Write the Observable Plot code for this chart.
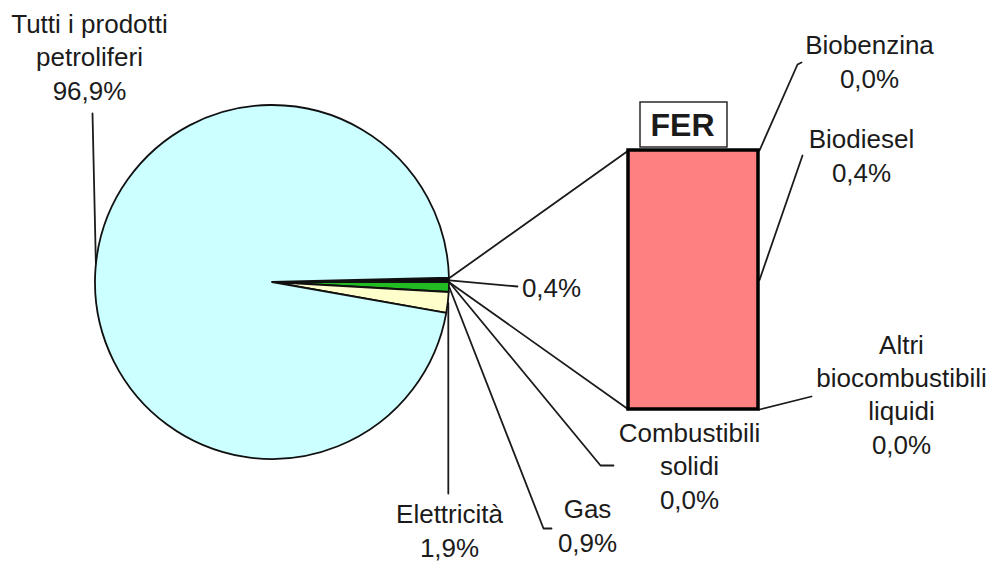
<!DOCTYPE html>
<html>
<head>
<meta charset="utf-8">
<script src="https://cdn.jsdelivr.net/npm/d3@7"></script>
<script src="https://cdn.jsdelivr.net/npm/@observablehq/plot@0.6"></script>
<style>
  body { margin: 0; background: #fff; }
  #chart { width: 993px; height: 561px; }
</style>
</head>
<body>
<div id="chart"></div>
<script>
// Consumi finali nei trasporti per fonte (quote %), con dettaglio delle FER
const pieLabels = ["FER", "Combustibili\nsolidi", "Gas", "Elettricità", "Tutti i prodotti\npetroliferi"];
const pieValues = [0.4, 0.0, 0.9, 1.9, 96.9];
const barLabels = ["Biobenzina", "Biodiesel", "Altri\nbiocombustibili\nliquidi"];
const barValues = [0.0, 0.4, 0.0];
const barTitle = "FER";

// Italian number format: 0,4%
const fmt = v => d3.format(".1f")(v).replace(".", ",") + "%";

// Layout (in the pixel-like coordinate frame of the x/y scales)
const W = 993, H = 561;
const PIE = {cx: 272, cy: 282, r: 177};
const BAR = {x1: 628, x2: 758, y1: 150, y2: 409};
const TITLE_BOX = {x1: 640, x2: 727, y1: 102, y2: 147, tx: 682, ty: 135};
const FONT = "Liberation Sans, Arial, Helvetica, sans-serif";
const INK = "#1b1b1b";

const sliceFill = new Map([
  ["FER", "#0c0c0c"],
  ["Combustibili\nsolidi", "#808080"],
  ["Gas", "#22bb22"],
  ["Elettricità", "#ffffcc"],
  ["Tutti i prodotti\npetroliferi", "#ccffff"]
]);

// Label anchors (x centre, baseline of last line) and leader-line tails
const pieLabelPos = new Map([
  ["FER", {x: 551, y: 296, tail: [[517, 286]]}],
  ["Combustibili\nsolidi", {x: 689, y: 508, tail: [[600, 465], [613, 465]]}],
  ["Gas", {x: 587, y: 551, tail: [[543, 528], [551, 528]]}],
  ["Elettricità", {x: 449, y: 556, tail: "down"}],
  ["Tutti i prodotti\npetroliferi", {x: 89, y: 99, tail: [[92, 113]]}]
]);
const barLabelPos = new Map([
  ["Biobenzina", {x: 869, y: 87, tail: [[797, 64], [801, 62]]}],
  ["Biodiesel", {x: 861, y: 181, tail: [[802, 155]]}],
  ["Altri\nbiocombustibili\nliquidi", {x: 901, y: 453, tail: [[811, 396]]}]
]);

// Pie: FER slice sits just above 3 o'clock, the rest follow clockwise
const total = d3.sum(pieValues);
const ferAngle = pieValues[0] / total * 2 * Math.PI;
const start = Math.PI / 2 - ferAngle;
const arcs = d3.pie().sort(null).value(d => d.value)
  .startAngle(start).endAngle(start + 2 * Math.PI)(
    pieLabels.map((name, i) => ({name, value: pieValues[i]}))
  );
const edge = (a, r = PIE.r) => [PIE.cx + r * Math.sin(a), PIE.cy - r * Math.cos(a)];

function pieMark(index, scales) {
  const cx = scales.x(PIE.cx), cy = scales.y(PIE.cy);
  const r = scales.x(PIE.cx + PIE.r) - cx;
  const arc = d3.arc().innerRadius(0).outerRadius(r);
  const g = d3.create("svg:g").attr("transform", `translate(${cx},${cy})`);
  g.selectAll("path")
    .data(arcs.filter(a => a.value > 0))
    .join("path")
    .attr("d", arc)
    .attr("fill", d => sliceFill.get(d.data.name))
    .attr("stroke", "#111")
    .attr("stroke-width", 1.8)
    .attr("stroke-linejoin", "round");
  return g.node();
}

// Bar of the FER breakdown, stacked top to bottom
const barTotal = d3.sum(barValues);
const barY = v => BAR.y1 + (v / barTotal) * (BAR.y2 - BAR.y1);
let cum = 0;
const barSegs = barLabels.map((name, i) => {
  const s = {name, value: barValues[i], from: cum, to: cum + barValues[i]};
  cum += barValues[i];
  return s;
});

// Leader lines
const leaders = [];
arcs.forEach(a => {
  const pos = pieLabelPos.get(a.data.name);
  const mid = (a.startAngle + a.endAngle) / 2;
  const p0 = edge(mid);
  const pts = pos.tail === "down" ? [p0, [p0[0], 493]] : [p0, ...pos.tail];
  pts.forEach(([x, y]) => leaders.push({id: "p-" + a.data.name, x, y}));
});
barSegs.forEach(s => {
  const pos = barLabelPos.get(s.name);
  const y0 = barY((s.from + s.to) / 2);
  [[BAR.x2 + 1, y0], ...pos.tail].forEach(([x, y]) => leaders.push({id: "b-" + s.name, x, y}));
});
// connectors from the FER slice to the bar
const fer = arcs[0];
const c1 = edge(fer.startAngle), c2 = edge(fer.endAngle);
leaders.push({id: "c1", x: c1[0], y: c1[1]}, {id: "c1", x: BAR.x1, y: BAR.y1});
leaders.push({id: "c2", x: c2[0], y: c2[1]}, {id: "c2", x: BAR.x1, y: BAR.y2});

// Labels
const labels = [
  ...arcs.map(a => {
    const pos = pieLabelPos.get(a.data.name);
    const text = a.data.name === "FER" ? fmt(a.data.value) : a.data.name + "\n" + fmt(a.data.value);
    return {text, x: pos.x, y: pos.y};
  }),
  ...barSegs.map(s => {
    const pos = barLabelPos.get(s.name);
    return {text: s.name + "\n" + fmt(s.value), x: pos.x, y: pos.y};
  })
];

const chart = Plot.plot({
  width: W,
  height: H,
  margin: 0,
  x: {domain: [0, W], range: [0, W], axis: null},
  y: {domain: [0, H], range: [0, H], axis: null},
  style: {background: "#fff", fontFamily: FONT},
  marks: [
    Plot.line(leaders, {x: "x", y: "y", z: "id", stroke: INK, strokeWidth: 1.8, curve: "linear"}),
    pieMark,
    Plot.rect(barSegs.filter(s => s.value > 0), {
      x1: () => BAR.x1, x2: () => BAR.x2,
      y1: d => barY(d.from), y2: d => barY(d.to),
      fill: "#ff8080", stroke: "#000", strokeWidth: 3.5
    }),
    Plot.rect([TITLE_BOX], {x1: "x1", x2: "x2", y1: "y1", y2: "y2", fill: "#fff", stroke: INK, strokeWidth: 1.4}),
    Plot.text([barTitle], {
      x: () => TITLE_BOX.tx, y: () => TITLE_BOX.ty, text: d => d,
      fontSize: 32, fontWeight: "bold", fill: INK, textAnchor: "middle", lineAnchor: "bottom"
    }),
    Plot.text(labels, {
      x: "x", y: "y", text: "text",
      fontSize: 26, lineHeight: 1.27, fill: INK, textAnchor: "middle", lineAnchor: "bottom"
    })
  ]
});

document.getElementById("chart").appendChild(chart);
</script>
</body>
</html>
